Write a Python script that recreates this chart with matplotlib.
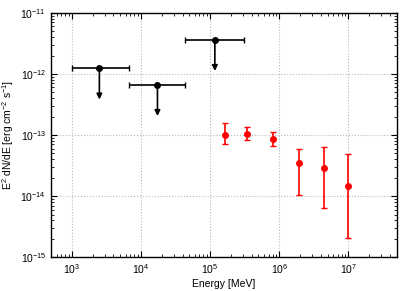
import numpy as np
import matplotlib.pyplot as plt
from matplotlib.patches import FancyArrowPatch
from matplotlib.ticker import LogLocator, NullFormatter

# upper limits (black)
ul_e = [2.5e3, 1.73e4, 1.17e5]
ul_lo = [1.0e3, 6.6e3, 4.4e4]
ul_hi = [6.6e3, 4.4e4, 3.1e5]
ul_flux = [1.23e-12, 6.6e-13, 3.6e-12]

# detections (red)
det_e = [1.65e5, 3.47e5, 8.1e5, 1.9e6, 4.43e6, 1.0e7]
det_flux = [1.0e-13, 1.04e-13, 8.7e-14, 3.45e-14, 2.87e-14, 1.44e-14]
det_up = [1.55e-13, 1.37e-13, 1.14e-13, 5.9e-14, 6.3e-14, 4.9e-14]
det_lo = [7.05e-14, 8.3e-14, 6.6e-14, 1.04e-14, 6.3e-15, 2.1e-15]

x_ticks = [1e3, 1e4, 1e5, 1e6, 1e7]
y_ticks = [1e-15, 1e-14, 1e-13, 1e-12, 1e-11]

plt.rcParams['font.family'] = ['Liberation Sans', 'DejaVu Sans']
plt.rcParams['mathtext.fontset'] = 'custom'
plt.rcParams['mathtext.rm'] = 'Liberation Sans'
plt.rcParams['mathtext.it'] = 'Liberation Sans:italic'
plt.rcParams['mathtext.bf'] = 'Liberation Sans:bold'

fig = plt.figure(figsize=(4.15, 2.91), dpi=100)
ax = fig.add_axes([0.123, 0.116, 0.833, 0.840])
ax.set_xscale('log')
ax.set_yscale('log')
ax.set_xlim(5e2, 5e7)
ax.set_ylim(1e-15, 1e-11)
ax.set_xticks(x_ticks)
ax.set_yticks(y_ticks)

ax.grid(True, which='major', linestyle=':', color='#b8b8b8', linewidth=0.8)

# upper limits
ul_e = np.array(ul_e)
ul_flux = np.array(ul_flux)
xerr = [ul_e - np.array(ul_lo), np.array(ul_hi) - ul_e]
ax.errorbar(ul_e, ul_flux, xerr=xerr, fmt='o', color='black', ms=4,
            elinewidth=1.2, capsize=2.5, capthick=1.0, zorder=3)
for e, f in zip(ul_e, ul_flux):
    arr = FancyArrowPatch((e, f), (e, f * 0.31), arrowstyle='-|>',
                          mutation_scale=8, color='black', lw=1.2,
                          shrinkA=0, shrinkB=0, zorder=3)
    ax.add_patch(arr)

# detections
det_flux = np.array(det_flux)
yerr = [det_flux - np.array(det_lo), np.array(det_up) - det_flux]
ax.errorbar(det_e, det_flux, yerr=yerr, fmt='o', color='red', ms=4,
            elinewidth=1.2, capsize=2, capthick=1.0, zorder=3)

ax.xaxis.set_minor_locator(LogLocator(base=10, subs=np.arange(2, 10), numticks=20))
ax.xaxis.set_minor_formatter(NullFormatter())
ax.yaxis.set_minor_locator(LogLocator(base=10, subs=np.arange(2, 10), numticks=20))
ax.yaxis.set_minor_formatter(NullFormatter())
ax.tick_params(which='both', direction='in', top=True, right=True, labelsize=7.5)
ax.tick_params(which='major', length=4)
ax.tick_params(which='minor', length=2)
for s in ax.spines.values():
    s.set_linewidth(1.0)

ax.set_xlabel('Energy [MeV]', fontsize=7.5, labelpad=2)
ax.set_ylabel('E$^2$ dN/dE [erg cm$^{-2}$ s$^{-1}$]', fontsize=7.5, labelpad=3)

fig.savefig('out.png', dpi=100)
